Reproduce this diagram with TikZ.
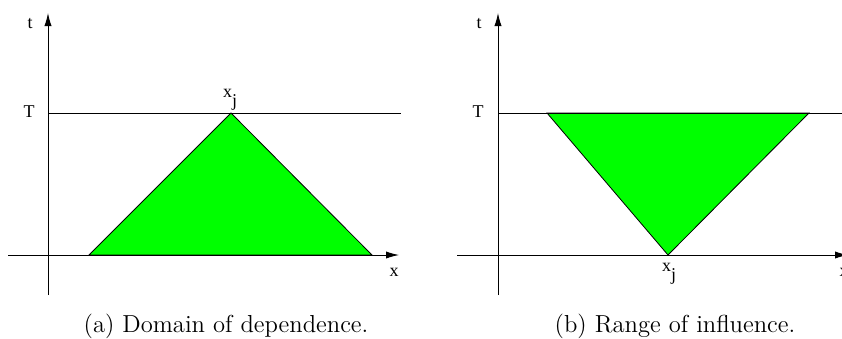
\documentclass[tikz,border=0pt]{standalone}
\usepackage{fontspec}
\setmainfont{Latin Modern Roman}
\newfontfamily\lblfont{Liberation Serif}
\usetikzlibrary{arrows.meta}
\definecolor{regiongreen}{RGB}{0,255,0}
\begin{document}
\begin{tikzpicture}[x=0.5pt,y=-0.5pt,
  axis/.style={line width=0.45pt,-{Latex[length=6.5pt,width=3.6pt]}},
  tline/.style={line width=0.45pt},
  region/.style={fill=regiongreen,draw=black,line width=0.4pt},
  lbl/.style={font=\lblfont\fontsize{9}{10}\selectfont,inner sep=0pt,anchor=base},
  captext/.style={font=\fontsize{12.3}{14}\selectfont,inner sep=0pt,anchor=base}]
\useasboundingbox (0,0) rectangle (842,338);
\clip (0,0) rectangle (842,338);
% ---------- panel (a) ----------
\coordinate (aL) at (89,255);
\coordinate (aA) at (231,113);
\coordinate (aR) at (372,255);
\filldraw[region] (aL) -- (aA) -- (aR) -- cycle;
\coordinate (aVb) at (48,295);
\coordinate (aVt) at (48,13);
\coordinate (aHl) at (8,255);
\coordinate (aHr) at (399,255);
\coordinate (aTl) at (48,113);
\coordinate (aTr) at (401,113);
\draw[axis] (aVb) -- (aVt);
\draw[axis] (aHl) -- (aHr);
\draw[tline] (aTl) -- (aTr);
\node[lbl] (at) at (30,28) {t};
\node[lbl] (aT) at (29,117) {T};
\node[lbl] (ax) at (394,276) {x};
\node[lbl] (axj) at (230,97) {x\raisebox{-4.5pt}{j}};
\node[captext] (acap) at (226,332) {(a) Domain of dependence.};
% ---------- panel (b) ----------
\coordinate (bL) at (547,113);
\coordinate (bR) at (809,113);
\coordinate (bA) at (668,255);
\filldraw[region] (bL) -- (bA) -- (bR) -- cycle;
\coordinate (bVb) at (498,295);
\coordinate (bVt) at (498,13);
\coordinate (bHl) at (457,255);
\coordinate (bHr) at (848,255);
\coordinate (bTl) at (498,113);
\coordinate (bTr) at (845,113);
\draw[axis] (bVb) -- (bVt);
\draw[axis] (bHl) -- (bHr);
\draw[tline] (bTl) -- (bTr);
\node[lbl] (bt) at (479,28) {t};
\node[lbl] (bT) at (478,117) {T};
\node[lbl] (bx) at (844,276) {x};
\node[lbl] (bxj) at (669,271) {x\raisebox{-4.5pt}{j}};
\node[captext] (bcap) at (675,332) {(b) Range of influence.};
\end{tikzpicture}
\end{document}
